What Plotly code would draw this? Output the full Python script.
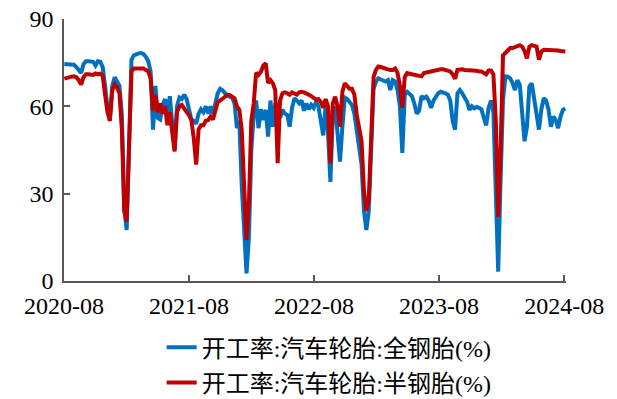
import pandas as pd
import plotly.graph_objects as go

# Weekly observation dates (210 weeks)
dates = pd.date_range("2020-08-02", periods=210, freq="7D")

# 开工率:汽车轮胎:全钢胎(%)
all_steel = [
    74.5, 74.5, 74.5, 74.5, 74.3, 73.5, 72.5, 71.5, 74.5, 75.5,
    75.5, 75.5, 75.3, 74.0, 75.5, 75.3, 73.5, 67.0, 59.5, 56.0,
    67.0, 70.0, 68.5, 67.0, 57.0, 25.0, 17.5, 47.0, 76.0, 77.5,
    78.0, 78.2, 78.3, 78.0, 77.0, 75.5, 72.0, 52.0, 67.0, 56.0,
    55.5, 60.5, 62.5, 57.0, 63.5, 53.0, 45.0, 60.0, 63.0, 62.5,
    64.0, 62.5, 59.0, 55.5, 55.0, 54.0, 57.5, 59.0, 58.0, 60.0,
    57.5, 60.0, 57.5, 61.5, 64.5, 66.0, 65.5, 64.5, 63.8, 63.3,
    63.0, 61.0, 52.5, 55.0, 33.0, 15.0, 2.6, 15.0, 45.0, 57.0,
    62.0, 52.5, 59.0, 55.3, 58.8, 49.6, 62.0, 53.0, 61.0, 60.0,
    56.0, 58.8, 57.5, 57.0, 53.0, 59.5, 62.8, 62.0, 61.0, 62.0,
    58.5, 61.0, 59.0, 60.5, 59.5, 61.5, 60.0, 55.0, 50.0, 60.5,
    51.0, 34.0, 57.0, 60.0, 52.0, 41.0, 53.0, 63.0, 62.5, 61.5,
    60.5, 57.5, 51.0, 44.0, 40.0, 24.0, 17.5, 24.0, 45.0, 66.0,
    68.5, 69.6, 69.2, 69.0, 68.5, 69.0, 65.6, 69.0, 68.5, 65.5,
    60.0, 44.0, 64.0, 65.0, 64.0, 63.5, 61.0, 57.5, 58.5, 63.5,
    62.8, 63.3, 62.0, 59.5, 62.0, 63.5, 64.5, 65.0, 64.8, 64.5,
    64.0, 62.0, 55.0, 52.0, 64.5, 65.6, 64.5, 63.0, 61.6, 58.8,
    60.0, 59.3, 59.8, 59.5, 59.0, 56.0, 53.5, 59.5, 62.0, 58.0,
    30.0, 3.2, 35.0, 62.0, 70.3, 70.2, 69.6, 68.0, 65.6, 69.0,
    67.4, 58.8, 48.0, 53.0, 66.8, 67.9, 63.0, 58.8, 52.0, 59.0,
    62.8, 62.0, 58.8, 53.0, 56.5, 55.3, 52.5, 56.5, 58.8, 59.3,
]

# 开工率:汽车轮胎:半钢胎(%)
semi_steel = [
    69.5, 69.8, 70.0, 70.2, 70.3, 70.0, 69.0, 67.5, 70.0, 71.0,
    71.0, 70.8, 70.8, 71.3, 71.0, 71.2, 70.5, 64.0, 58.0, 55.0,
    65.5, 67.5, 66.5, 64.5, 52.0, 24.0, 20.5, 46.0, 72.0, 73.0,
    73.0, 73.2, 73.2, 73.0, 72.5, 72.0, 69.5, 58.5, 64.0, 58.0,
    61.0, 57.5, 60.0, 53.5, 58.0, 50.0, 44.5, 58.0, 60.0, 60.5,
    59.0, 58.0, 57.0, 55.3, 49.0, 40.0, 52.0, 53.5, 53.5, 55.0,
    55.3, 56.5, 55.5, 58.5, 61.5, 62.0, 62.5, 63.0, 63.9, 63.9,
    63.5, 62.8, 60.0, 58.8, 52.0, 33.0, 14.0, 27.0, 55.0, 61.0,
    71.5, 70.8, 71.9, 74.0, 74.8, 68.0, 69.0, 67.9, 65.5, 40.5,
    62.0, 64.5, 64.8, 64.5, 64.0, 64.8, 64.5, 64.0, 64.8, 65.0,
    64.8, 64.5, 64.0, 63.5, 63.0, 62.3, 62.5, 61.5, 59.5, 62.5,
    60.0, 40.4, 61.0, 63.3, 60.0, 53.0, 65.0, 67.9, 67.0, 66.0,
    66.0, 64.0, 57.0, 52.0, 48.0, 31.0, 24.0, 28.0, 50.0, 70.0,
    72.5, 73.7, 73.5, 73.2, 72.7, 72.7, 72.5, 72.5, 73.0, 71.5,
    67.0, 59.5, 70.0, 71.4, 71.2, 71.0, 70.8, 70.4, 70.3, 70.3,
    71.4, 71.6, 71.9, 72.0, 72.2, 72.4, 72.5, 72.7, 72.7, 72.5,
    72.5, 72.0, 71.0, 69.5, 72.5, 72.7, 72.7, 72.5, 72.5, 72.5,
    72.5, 72.5, 72.2, 72.0, 72.0, 71.5, 71.0, 72.3, 72.3, 71.0,
    55.0, 22.0, 45.0, 77.5, 78.5, 79.3, 80.0, 80.0, 80.3, 80.8,
    81.0, 80.5, 79.0, 76.5, 80.5, 81.0, 80.8, 80.5, 76.0, 78.8,
    79.4, 79.4, 79.4, 79.4, 79.3, 79.2, 79.2, 79.0, 78.8, 78.8,
]

x_tick_vals = ["2020-08-01", "2021-08-01", "2022-08-01", "2023-08-01", "2024-08-01"]
x_tick_text = ["2020-08", "2021-08", "2022-08", "2023-08", "2024-08"]
y_tick_vals = [0, 30, 60, 90]

series_names = ["开工率:汽车轮胎:全钢胎(%)", "开工率:汽车轮胎:半钢胎(%)"]
series_colors = ["#0070C0", "#C00000"]

serif = "Times New Roman, Liberation Serif, Noto Sans CJK SC, serif"

fig = go.Figure()
for name, vals, color, grp in zip(series_names, [all_steel, semi_steel], series_colors, ["a", "b"]):
    fig.add_trace(go.Scatter(
        x=dates, y=vals, mode="lines", name=name, legendgroup=grp,
        line=dict(color=color, width=4),
    ))

axis_color = "#595959"
fig.update_layout(
    width=617, height=399,
    margin=dict(l=64, r=51, t=19, b=118, autoexpand=False),
    paper_bgcolor="white", plot_bgcolor="white",
    font=dict(family=serif, size=24, color="black"),
    showlegend=True,
    legend=dict(
        orientation="v",
        xref="container", x=0.262, xanchor="left",
        yref="container", y=0.185, yanchor="top",
        font=dict(family=serif, size=24, color="black"),
        traceorder="grouped", tracegroupgap=1,
        bgcolor="rgba(0,0,0,0)",
    ),
    xaxis=dict(
        type="date", range=["2020-08-01", "2024-08-06"],
        tickmode="array", tickvals=x_tick_vals, ticktext=x_tick_text,
        showgrid=False, zeroline=False,
        showline=True, linecolor=axis_color, linewidth=1.5,
        ticks="inside", ticklen=6, tickcolor=axis_color, tickwidth=1.5,
        tickfont=dict(family=serif, size=24, color="black"),
        ticklabeloverflow="allow", ticklabelstandoff=2,
    ),
    yaxis=dict(
        range=[0, 90], tickmode="array", tickvals=y_tick_vals,
        showgrid=False, zeroline=False,
        showline=True, linecolor=axis_color, linewidth=1.5,
        ticks="inside", ticklen=6, tickcolor=axis_color, tickwidth=1.5,
        tickfont=dict(family=serif, size=24, color="black"),
        ticklabelstandoff=4, ticklabeloverflow="allow",
    ),
)

# Remove the default 8px page margin so the figure fills the window exactly.
fig.write_html(
    "out.html",
    config={"displayModeBar": False},
    post_script="document.body.style.margin='0';",
)
